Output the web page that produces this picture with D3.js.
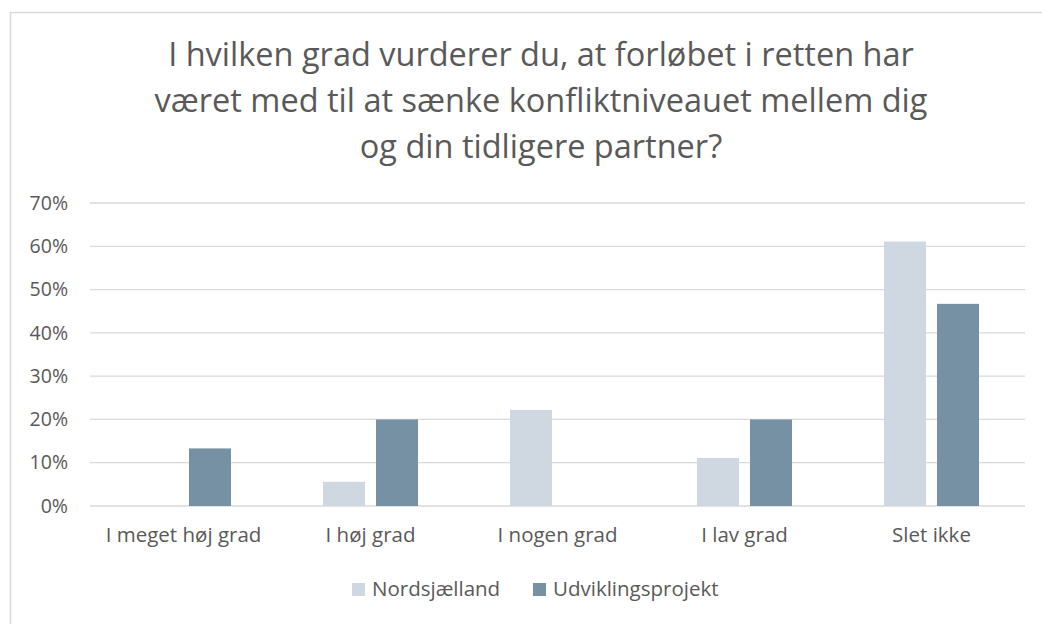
<!DOCTYPE html>
<html>
<head>
<meta charset="utf-8">
<script src="https://cdn.jsdelivr.net/npm/d3@7"></script>
<style>
  body { margin: 0; background: #fff; }
  svg text { font-family: "Open Sans", Lato, sans-serif; fill: #595959; }
</style>
</head>
<body>
<div id="chart"></div>
<script>
// data
const categories = ["I meget høj grad", "I høj grad", "I nogen grad", "I lav grad", "Slet ikke"];
const seriesNames = ["Nordsjælland", "Udviklingsprojekt"];
const nordsjaelland = [0, 0.056, 0.222, 0.111, 0.611];
const udvikling = [0.133, 0.20, 0, 0.20, 0.467];
const yTicks = [0, 0.1, 0.2, 0.3, 0.4, 0.5, 0.6, 0.7];
const titleLines = [
  "I hvilken grad vurderer du, at forløbet i retten har",
  "været med til at sænke konfliktniveauet mellem dig",
  "og din tidligere partner?"
];

const colors = {"Nordsjælland": "#cfd8e0", "Udviklingsprojekt": "#7591a3"};

const width = 1042, height = 624;
const margin = {top: 203, right: 17, bottom: 118, left: 90};

const svg = d3.select("#chart").append("svg")
  .attr("width", width)
  .attr("height", height);

// outer border of the chart area
svg.append("rect")
  .attr("x", 10.5).attr("y", 12.5)
  .attr("width", width + 20).attr("height", height + 20)
  .attr("fill", "none")
  .attr("stroke", "#d9d9d9")
  .attr("stroke-width", 1.5);

// title
svg.append("g").selectAll("text")
  .data(titleLines)
  .join("text")
    .attr("x", 541)
    .attr("y", (d, i) => 66 + i * 46)
    .attr("text-anchor", "middle")
    .style("font-size", "32.5px")
    .text(d => d);

const rows = categories.map((c, i) => ({cat: c, "Nordsjælland": nordsjaelland[i], "Udviklingsprojekt": udvikling[i]}));

const x0 = d3.scaleBand()
  .domain(categories)
  .range([margin.left, width - margin.right]);

const groupW = 95;
const x1 = d3.scaleBand()
  .domain(seriesNames)
  .range([(x0.bandwidth() - groupW) / 2, (x0.bandwidth() + groupW) / 2])
  .paddingInner(0.2075);

const y = d3.scaleLinear()
  .domain([0, 0.7])
  .range([height - margin.bottom, margin.top]);

// gridlines
svg.append("g").selectAll("line")
  .data(yTicks)
  .join("line")
    .attr("x1", margin.left)
    .attr("x2", width - margin.right)
    .attr("y1", d => y(d))
    .attr("y2", d => y(d))
    .attr("stroke", "#d9d9d9")
    .attr("stroke-width", 1.3);

// y axis labels
const yAxis = d3.axisLeft(y).tickValues(yTicks).tickFormat(d3.format(".0%")).tickSize(0).tickPadding(22);
const yAxisG = svg.append("g")
  .attr("transform", "translate(" + margin.left + ",0)")
  .call(yAxis);
yAxisG.select(".domain").remove();
yAxisG.selectAll("text").style("font-size", "19.5px").attr("fill", "#595959");

// bars
svg.append("g").selectAll("g")
  .data(rows)
  .join("g")
    .attr("transform", d => "translate(" + x0(d.cat) + ",0)")
  .selectAll("rect")
  .data(d => seriesNames.map(k => ({key: k, value: d[k]})))
  .join("rect")
    .attr("x", d => x1(d.key))
    .attr("width", x1.bandwidth())
    .attr("y", d => y(d.value))
    .attr("height", d => y(0) - y(d.value))
    .attr("fill", d => colors[d.key]);

// x axis labels
const xAxis = d3.axisBottom(x0).tickSize(0).tickPadding(21);
const xAxisG = svg.append("g")
  .attr("transform", "translate(0," + y(0) + ")")
  .call(xAxis);
xAxisG.select(".domain").remove();
xAxisG.selectAll("text").style("font-size", "20.5px").attr("fill", "#595959");

// legend
const legendX = [352, 533];
const legend = svg.append("g").selectAll("g")
  .data(seriesNames)
  .join("g")
    .attr("transform", (d, i) => "translate(" + legendX[i] + ",583)");
legend.append("rect")
  .attr("width", 13).attr("height", 13)
  .attr("fill", d => colors[d]);
legend.append("text")
  .attr("x", 20)
  .attr("y", 13)
  .style("font-size", "20.5px")
  .text(d => d);
</script>
</body>
</html>
